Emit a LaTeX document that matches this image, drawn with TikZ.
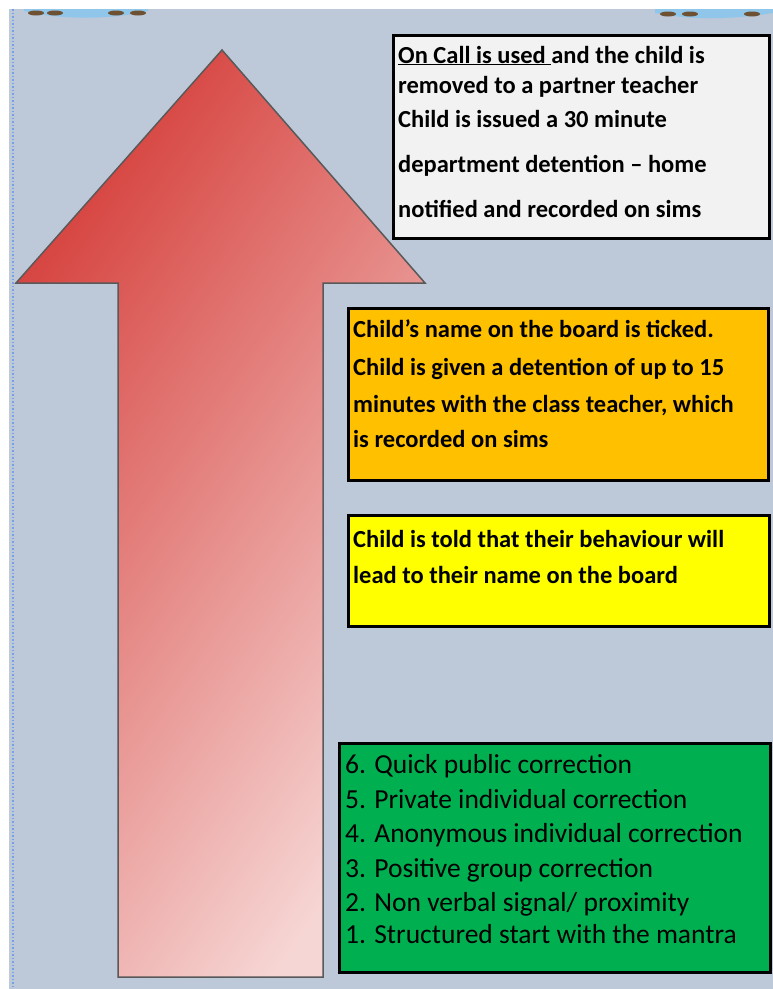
\documentclass[tikz,border=0pt]{standalone}
\usepackage{fontspec}
\setmainfont{Carlito}
\usepackage{xcolor}
\definecolor{bgblue}{RGB}{189,200,217}
\definecolor{dotblue}{RGB}{120,160,230}
\definecolor{callgray}{RGB}{242,242,242}
\definecolor{tickorange}{RGB}{255,192,0}
\definecolor{warnyellow}{RGB}{255,255,0}
\definecolor{stepgreen}{RGB}{0,176,80}
\definecolor{arrowdark}{RGB}{214,66,62}
\definecolor{arrowlight}{RGB}{246,214,212}
\definecolor{bannerblue}{RGB}{70,160,220}
\definecolor{bannerbrown}{RGB}{110,80,50}

\begin{document}
\begin{tikzpicture}[x=1pt,y=-1pt,
  box/.style={draw=black, line width=3pt, anchor=north west, inner sep=0pt},
  bline/.style={anchor=base west, inner sep=0pt, font=\bfseries\fontsize{24.5}{28}\selectfont},
  gline/.style={anchor=base west, inner sep=0pt, font=\fontsize{27.5}{32}\selectfont}]
\useasboundingbox (0,0) rectangle (773,989);
\fill[bgblue] (9,9) rectangle (773,989);
\draw[dotblue, dotted, line width=1.5pt] (13,9) -- (13,989);
% banners at the top
\fill[bannerblue!60] (24,11) .. controls (60,20) and (110,20) .. (148,11) -- (148,9) -- (24,9) -- cycle;
\foreach \x in {36,55,116,138} \fill[bannerbrown] (\x,13) ellipse (8 and 2.5);
\fill[bannerblue!60] (655,13) .. controls (690,20) and (730,20) .. (773,13) -- (773,9) -- (655,9) -- cycle;
\foreach \x in {668,690,752} \fill[bannerbrown] (\x,14) ellipse (8 and 2.5);
% the big arrow
\shadedraw[draw=black!65, line width=1.5pt, top color=arrowdark, bottom color=arrowlight, shading angle=55]
  (222,50) -- (425,283) -- (323,283) -- (323,977) -- (118,977) -- (118,283) -- (16,283) -- cycle;
% boxes
\node[box, fill=callgray, minimum width=376, minimum height=203] (call) at (392,34) {};
\node[box, fill=tickorange, minimum width=420, minimum height=172] (tick) at (347,307) {};
\node[box, fill=warnyellow, minimum width=421, minimum height=111] (warn) at (347,514) {};
\node[box, fill=stepgreen, minimum width=431, minimum height=229] (steps) at (338,742) {};
% texts
\foreach \t/\y [count=\i] in {\underline{On Call is used\ }and the child is/63,
  removed to a partner teacher/93, Child is issued a 30 minute/127,
  department detention – home/172, notified and recorded on sims/217}
  \node[bline] (call\i) at (398,\y) {\t};
\foreach \t/\y [count=\i] in {Child’s name on the board is ticked./337,
  Child is given a detention of up to 15/375,
  {minutes with the class teacher, which}/412, is recorded on sims/447}
  \node[bline] (tick\i) at (353,\y) {\t};
\foreach \t/\y [count=\i] in {Child is told that their behaviour will/547,
  lead to their name on the board/583}
  \node[bline] (warn\i) at (353,\y) {\t};
\foreach \t/\y [count=\i] in {6. Quick public correction/773, 5. Private individual correction/808,
  4. Anonymous individual correction/842, 3. Positive group correction/877,
  {2. Non verbal signal/ proximity}/911, 1. Structured start with the mantra/943}
  \node[gline] (step\i) at (345,\y) {\t};
\end{tikzpicture}
\end{document}
